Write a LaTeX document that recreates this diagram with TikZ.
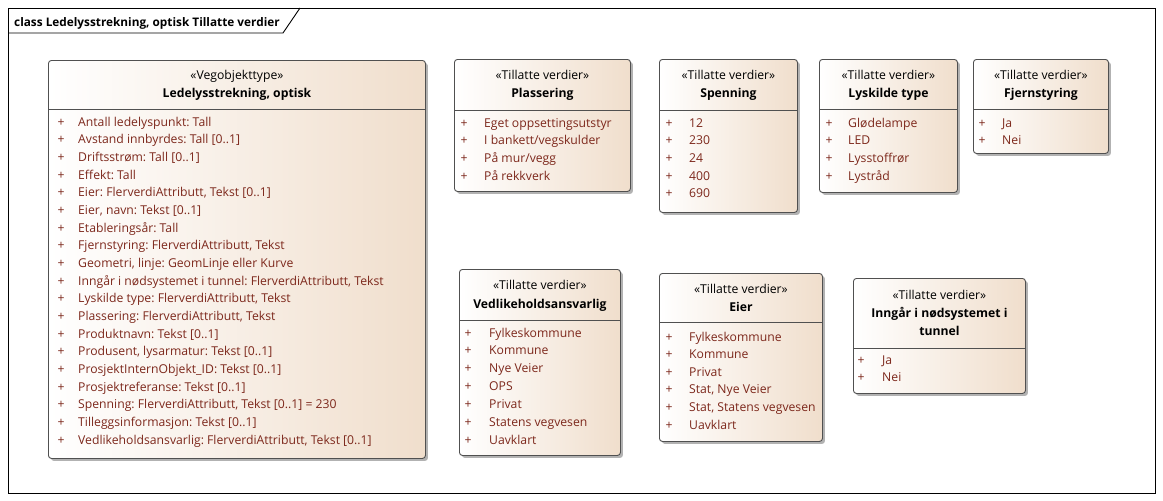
\documentclass[tikz,border=0pt]{standalone}
\usepackage{fontspec}
\setmainfont{Open Sans}
\usetikzlibrary{shadows}
\definecolor{itemc}{RGB}{125,40,28}
\definecolor{fillc}{RGB}{240,222,204}
\definecolor{linec}{RGB}{80,80,80}
\newcommand\txtfont{\fontsize{12.2}{14}\selectfont}
\frenchspacing
\tikzset{
  classbox/.style={draw=linec, line width=0.9pt, rounded corners=3pt,
    left color=white, right color=fillc, anchor=north west, inner sep=0pt,
    drop shadow={shadow xshift=2.5pt, shadow yshift=-2.5pt, fill=black, opacity=0.3}},
  sepline/.style={draw=linec, line width=0.8pt},
  stereo/.style={anchor=base, font=\txtfont, inner sep=0pt},
  cname/.style={anchor=base, font=\txtfont\bfseries, inner sep=0pt},
  plussign/.style={anchor=base, text=itemc, font=\txtfont, inner sep=0pt},
  itemtxt/.style={anchor=base west, text=itemc, font=\txtfont, inner sep=0pt},
}
% name, left, top, right, bottom, separator
\newcommand\umlbox[6]{%
  \pgfmathsetmacro\bw{#4-#2}\pgfmathsetmacro\bh{#5-#3}%
  \node[classbox, minimum width=\bw pt, minimum height=\bh pt] (#1) at (#2,#3) {};
  \draw[sepline] (#1.west |- 0,#6) -- (#1.east |- 0,#6);
}
% name, plus x, text x, first baseline, step, list
\newcommand\umlitems[6]{%
  \foreach \t [count=\i from 0] in {#6} {
    \node[plussign] (#1-p\i) at (#2,#4+\i*#5) {+};
    \node[itemtxt] (#1-t\i) at (#3,#4+\i*#5) {\t};
  }
}
\begin{document}
\begin{tikzpicture}[x=1pt,y=-1pt]
\useasboundingbox (0,0) rectangle (1163,501);
\fill[white] (0,0) rectangle (1163,501);
% frame
\node[draw=black, line width=0.9pt, minimum width=1147pt, minimum height=485pt, anchor=north west, inner sep=0pt] (frame) at (8,8) {};
\draw[line width=0.9pt] (frame.north west |- 0,33) -- (283,33) -- (300,8);
\node[anchor=base west, font=\fontsize{11.8}{13}\selectfont\bfseries, inner sep=0pt] (title) at (14,26) {class Ledelysstrekning, optisk Tillatte verdier};

% main class
\umlbox{main}{48}{60}{425}{458}{109}
\node[stereo] (main-s) at (main.center |- 0,79) {«Vegobjekttype»};
\node[cname] (main-n) at (main.center |- 0,97) {Ledelysstrekning, optisk};
\umlitems{main}{61}{78}{126}{17.67}{{Antall ledelyspunkt: Tall},{Avstand innbyrdes: Tall [0..1]},{Driftsstrøm: Tall [0..1]},{Effekt: Tall},{Eier: FlerverdiAttributt, Tekst [0..1]},{Eier, navn: Tekst [0..1]},{Etableringsår: Tall},{Fjernstyring: FlerverdiAttributt, Tekst},{Geometri, linje: GeomLinje eller Kurve},{Inngår i nødsystemet i tunnel: FlerverdiAttributt, Tekst},{Lyskilde type: FlerverdiAttributt, Tekst},{Plassering: FlerverdiAttributt, Tekst},{Produktnavn: Tekst [0..1]},{Produsent, lysarmatur: Tekst [0..1]},{ProsjektInternObjekt\_ID: Tekst [0..1]},{Prosjektreferanse: Tekst [0..1]},{Spenning: FlerverdiAttributt, Tekst [0..1] = 230},{Tilleggsinformasjon: Tekst [0..1]},{Vedlikeholdsansvarlig: FlerverdiAttributt, Tekst [0..1]}}

% Plassering
\umlbox{plass}{454}{59}{630}{191}{110}
\node[stereo] (plass-s) at (plass.center |- 0,79) {«Tillatte verdier»};
\node[cname] (plass-n) at (plass.center |- 0,97) {Plassering};
\umlitems{plass}{464}{484}{127}{17.67}{Eget oppsettingsutstyr,I bankett/vegskulder,På mur/vegg,På rekkverk}

% Spenning
\umlbox{spenn}{659}{59}{797}{212}{110}
\node[stereo] (spenn-s) at (spenn.center |- 0,79) {«Tillatte verdier»};
\node[cname] (spenn-n) at (spenn.center |- 0,97) {Spenning};
\umlitems{spenn}{669}{689}{127}{17.67}{12,230,24,400,690}

% Lyskilde type
\umlbox{lysk}{819}{59}{957}{192}{109}
\node[stereo] (lysk-s) at (lysk.center |- 0,79) {«Tillatte verdier»};
\node[cname] (lysk-n) at (lysk.center |- 0,97) {Lyskilde type};
\umlitems{lysk}{829}{848}{127}{17.67}{Glødelampe,LED,Lysstoffrør,Lystråd}

% Fjernstyring
\umlbox{fjern}{973}{59}{1108}{153}{109}
\node[stereo] (fjern-s) at (fjern.center |- 0,79) {«Tillatte verdier»};
\node[cname] (fjern-n) at (fjern.center |- 0,97) {Fjernstyring};
\umlitems{fjern}{982}{1002}{127}{17.67}{Ja,Nei}

% Vedlikeholdsansvarlig
\umlbox{vedl}{459}{269}{620}{455}{320}
\node[stereo] (vedl-s) at (vedl.center |- 0,289) {«Tillatte verdier»};
\node[cname] (vedl-n) at (vedl.center |- 0,308) {Vedlikeholdsansvarlig};
\umlitems{vedl}{468}{489}{337}{17.9}{Fylkeskommune,Kommune,Nye Veier,OPS,Privat,Statens vegvesen,Uavklart}

% Eier
\umlbox{eier}{659}{273}{822}{441}{322}
\node[stereo] (eier-s) at (eier.center |- 0,293) {«Tillatte verdier»};
\node[cname] (eier-n) at (eier.center |- 0,311) {Eier};
\umlitems{eier}{669}{689}{341}{17.6}{Fylkeskommune,Kommune,Privat,{Stat, Nye Veier},{Stat, Statens vegvesen},Uavklart}

% Inngår i nødsystemet i tunnel
\umlbox{inng}{853}{278}{1025}{393}{348}
\node[stereo] (inng-s) at (inng.center |- 0,299) {«Tillatte verdier»};
\node[cname] (inng-n1) at (inng.center |- 0,317) {Inngår i nødsystemet i};
\node[cname] (inng-n2) at (inng.center |- 0,335) {tunnel};
\umlitems{inng}{861}{882}{364}{17.67}{Ja,Nei}
\end{tikzpicture}
\end{document}
